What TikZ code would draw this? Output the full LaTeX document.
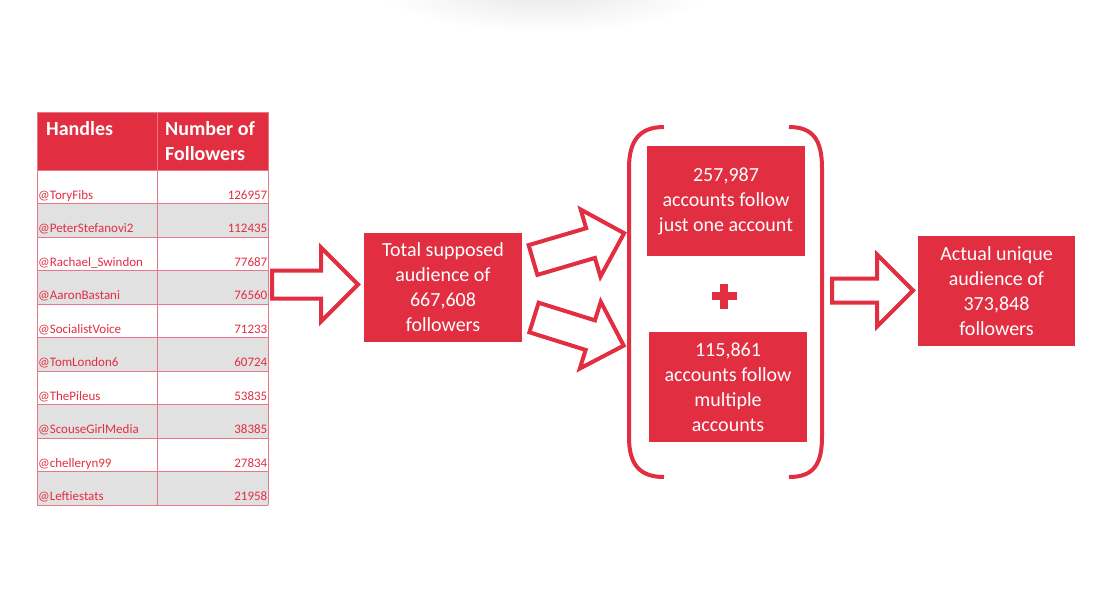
\documentclass[tikz,border=0pt]{standalone}
\usepackage{fontspec}
\setmainfont{Carlito}
\definecolor{mainred}{HTML}{E12E41}
\definecolor{rowgray}{HTML}{E1E1E1}
\definecolor{gridred}{HTML}{E8778A}
\tikzset{
  redbox/.style={fill=mainred, text=white, align=center, inner sep=0pt,
    font=\fontsize{20}{25}\selectfont},
  arrowline/.style={draw=mainred, line width=4, line join=miter},
  bracketline/.style={draw=mainred, line width=4},
  cell/.style={text=mainred, inner sep=0pt, font=\fontsize{13}{15}\selectfont},
  headtext/.style={text=white, inner sep=0pt, font=\bfseries\fontsize{20}{25}\selectfont},
  gridline/.style={draw=gridred, line width=1},
}
\newcommand\hollowarrow[7]{%
  \draw[arrowline, shift={(#1,#2)}, rotate=#3]
    (0,-#5) -- ({#4-#7},-#5) -- ({#4-#7},-#6) -- (#4,0) -- ({#4-#7},#6) -- ({#4-#7},#5) -- (0,#5) -- cycle;}
\begin{document}
\begin{tikzpicture}[x=1pt,y=-1pt]
\useasboundingbox (0,0) rectangle (1096,614);
% faint shadow at top
\shade[inner color=black!9, outer color=white, draw=none] (545,-8) ellipse [x radius=165, y radius=40];

% table header
\fill[mainred] (37,112) rectangle (268,170);
\node[headtext, anchor=base west] (hh) at (46,135) {Handles};
\node[headtext, anchor=base west] (hn1) at (165,135) {Number of};
\node[headtext, anchor=base west] (hn2) at (165,160) {Followers};

% rows
\foreach \h/\n [count=\i] in {ToryFibs/126957, PeterStefanovi2/112435, Rachael\_Swindon/77687, AaronBastani/76560, SocialistVoice/71233, TomLondon6/60724, ThePileus/53835, ScouseGirlMedia/38385, chelleryn99/27834, Leftiestats/21958}{
  \pgfmathsetmacro\top{170+(\i-1)*33.5}
  \pgfmathparse{int(mod(\i,2))}
  \ifnum\pgfmathresult=0
    \fill[rowgray] (37,\top) rectangle (268,\top+33.5);
  \fi
  \node[cell, anchor=base west] (h\i) at (38,\top+29) {@\h};
  \node[cell, anchor=base east] (n\i) at (267.5,\top+29) {\n};
  \draw[gridline] (37,\top+33.5) -- (268,\top+33.5);
}
\draw[gridline] (37,170) -- (268,170);
\draw[gridline] (37,112) -- (37,505);
\draw[gridline] (157,112) -- (157,505);
\draw[gridline] (268,112) -- (268,505);
\draw[gridline] (37,112) -- (268,112);

% arrow table -> total
\hollowarrow{272}{284.5}{0}{86}{14}{37}{37}

% total box
\node[redbox, minimum width=158, minimum height=109] (total) at (443,287.5)
  {Total supposed\\audience of\\667,608\\followers};

% diagonal arrows
\hollowarrow{533}{260}{16.4}{95}{15.5}{35}{35}
\hollowarrow{534}{317.5}{-17.4}{94}{15.5}{35}{35}

% brackets
\draw[bracketline] (664,127) .. controls (640,127) and (629,140) .. (629,168) -- (629,437) .. controls (629,465) and (640,477) .. (664,477);
\draw[bracketline] (789,127) .. controls (813,127) and (822,140) .. (822,168) -- (822,437) .. controls (822,465) and (813,477) .. (789,477);

% inner boxes
\node[redbox, minimum width=158, minimum height=110] (one) at (726,201)
  {257,987\\accounts follow\\just one account};
\node[redbox, minimum width=158, minimum height=110] (multi) at (728,387)
  {115,861\\accounts follow\\multiple\\accounts};

% plus sign
\fill[mainred] (711.5,292) rectangle (736.5,300);
\fill[mainred] (720,283.5) rectangle (728,308.5);

% arrow -> actual
\hollowarrow{832}{290.5}{0}{81}{12}{36}{36}

% actual box
\node[redbox, minimum width=157, minimum height=110] (actual) at (996.5,291)
  {Actual unique\\audience of\\373,848\\followers};
\end{tikzpicture}
\end{document}
